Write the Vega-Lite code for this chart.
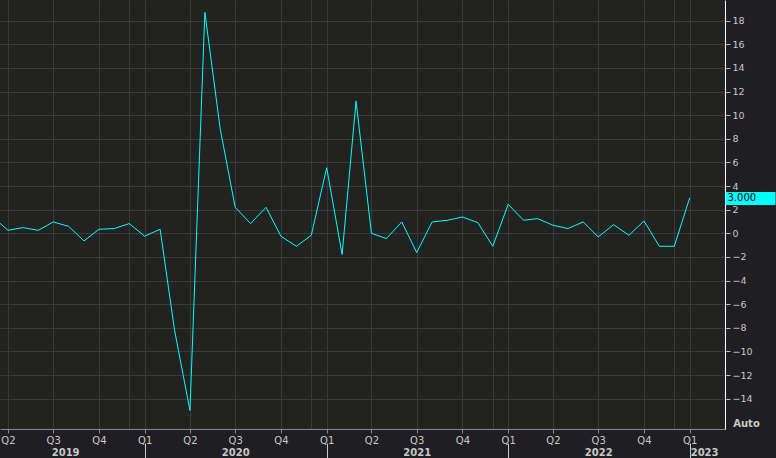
{
  "$schema": "https://vega.github.io/schema/vega-lite/v6.json",
  "autosize": {"type": "none"},
  "width": 725,
  "height": 429,
  "padding": {"left": 0, "top": 0, "right": 51, "bottom": 29},
  "background": "#1f1e22",
  "data": {
    "values": [
      {"date": "2019-03-01", "value": 1.4},
      {"date": "2019-04-01", "value": 0.25},
      {"date": "2019-05-01", "value": 0.48},
      {"date": "2019-06-01", "value": 0.25},
      {"date": "2019-07-01", "value": 0.96},
      {"date": "2019-08-01", "value": 0.59},
      {"date": "2019-09-01", "value": -0.65},
      {"date": "2019-10-01", "value": 0.34},
      {"date": "2019-11-01", "value": 0.4},
      {"date": "2019-12-01", "value": 0.82},
      {"date": "2020-01-01", "value": -0.25},
      {"date": "2020-02-01", "value": 0.34},
      {"date": "2020-03-01", "value": -8.2},
      {"date": "2020-04-01", "value": -15.0},
      {"date": "2020-05-01", "value": 18.7},
      {"date": "2020-06-01", "value": 8.8},
      {"date": "2020-07-01", "value": 2.2},
      {"date": "2020-08-01", "value": 0.82},
      {"date": "2020-09-01", "value": 2.2},
      {"date": "2020-10-01", "value": -0.25},
      {"date": "2020-11-01", "value": -1.1},
      {"date": "2020-12-01", "value": -0.17},
      {"date": "2021-01-01", "value": 5.55},
      {"date": "2021-02-01", "value": -1.8},
      {"date": "2021-03-01", "value": 11.2},
      {"date": "2021-04-01", "value": 0.0},
      {"date": "2021-05-01", "value": -0.45},
      {"date": "2021-06-01", "value": 0.96},
      {"date": "2021-07-01", "value": -1.63},
      {"date": "2021-08-01", "value": 0.96},
      {"date": "2021-09-01", "value": 1.1},
      {"date": "2021-10-01", "value": 1.38},
      {"date": "2021-11-01", "value": 0.9},
      {"date": "2021-12-01", "value": -1.1},
      {"date": "2022-01-01", "value": 2.45},
      {"date": "2022-02-01", "value": 1.1},
      {"date": "2022-03-01", "value": 1.24},
      {"date": "2022-04-01", "value": 0.68},
      {"date": "2022-05-01", "value": 0.4},
      {"date": "2022-06-01", "value": 0.96},
      {"date": "2022-07-01", "value": -0.31},
      {"date": "2022-08-01", "value": 0.73},
      {"date": "2022-09-01", "value": -0.17},
      {"date": "2022-10-01", "value": 1.04},
      {"date": "2022-11-01", "value": -1.1},
      {"date": "2022-12-01", "value": -1.1},
      {"date": "2023-01-01", "value": 3.0}
    ]
  },
  "layer": [
    {
      "mark": {"type": "point", "opacity": 0},
      "encoding": {
        "x": {
          "field": "date", "type": "temporal",
          "axis": {
            "orient": "bottom",
            "values": [
              {"year": 2019, "month": 4, "date": 1, "utc": true},
              {"year": 2019, "month": 7, "date": 1, "utc": true},
              {"year": 2019, "month": 10, "date": 1, "utc": true},
              {"year": 2019, "month": 12, "date": 1, "utc": true},
              {"year": 2020, "month": 1, "date": 1, "utc": true},
              {"year": 2020, "month": 4, "date": 1, "utc": true},
              {"year": 2020, "month": 7, "date": 1, "utc": true},
              {"year": 2020, "month": 10, "date": 1, "utc": true},
              {"year": 2020, "month": 12, "date": 1, "utc": true},
              {"year": 2021, "month": 1, "date": 1, "utc": true},
              {"year": 2021, "month": 4, "date": 1, "utc": true},
              {"year": 2021, "month": 7, "date": 1, "utc": true},
              {"year": 2021, "month": 10, "date": 1, "utc": true},
              {"year": 2021, "month": 12, "date": 1, "utc": true},
              {"year": 2022, "month": 1, "date": 1, "utc": true},
              {"year": 2022, "month": 4, "date": 1, "utc": true},
              {"year": 2022, "month": 7, "date": 1, "utc": true},
              {"year": 2022, "month": 10, "date": 1, "utc": true},
              {"year": 2022, "month": 12, "date": 1, "utc": true},
              {"year": 2023, "month": 1, "date": 1, "utc": true}
            ],
            "grid": true, "gridColor": "#3a3a3a", "gridWidth": 1,
            "labels": false, "ticks": false, "domain": false, "title": null
          }
        }
      }
    },
    {
      "mark": {"type": "line", "color": "#00ffff", "strokeWidth": 1, "clip": true},
      "encoding": {
        "x": {
          "field": "date", "type": "temporal",
          "scale": {
            "type": "utc",
            "domain": [
              {"year": 2019, "month": 3, "date": 16, "utc": true},
              {"year": 2023, "month": 3, "date": 13, "utc": true}
            ]
          },
          "axis": {
            "orient": "bottom",
            "values": [
              {"year": 2019, "month": 4, "date": 1, "utc": true},
              {"year": 2019, "month": 7, "date": 1, "utc": true},
              {"year": 2019, "month": 10, "date": 1, "utc": true},
              {"year": 2020, "month": 1, "date": 1, "utc": true},
              {"year": 2020, "month": 4, "date": 1, "utc": true},
              {"year": 2020, "month": 7, "date": 1, "utc": true},
              {"year": 2020, "month": 10, "date": 1, "utc": true},
              {"year": 2021, "month": 1, "date": 1, "utc": true},
              {"year": 2021, "month": 4, "date": 1, "utc": true},
              {"year": 2021, "month": 7, "date": 1, "utc": true},
              {"year": 2021, "month": 10, "date": 1, "utc": true},
              {"year": 2022, "month": 1, "date": 1, "utc": true},
              {"year": 2022, "month": 4, "date": 1, "utc": true},
              {"year": 2022, "month": 7, "date": 1, "utc": true},
              {"year": 2022, "month": 10, "date": 1, "utc": true},
              {"year": 2023, "month": 1, "date": 1, "utc": true}
            ],
            "format": "Q%q",
            "grid": false,
            "domainColor": "#8a8a8a",
            "tickColor": "#8a8a8a", "tickSize": 4,
            "labelPadding": 2,
            "title": null
          }
        },
        "y": {
          "field": "value", "type": "quantitative",
          "scale": {"domain": [-16.57, 19.75], "nice": false, "zero": false},
          "axis": {
            "orient": "right",
            "values": [-14, -12, -10, -8, -6, -4, -2, 0, 2, 4, 6, 8, 10, 12, 14, 16, 18],
            "grid": true, "gridColor": "#3a3a3a",
            "domainColor": "#ffffff",
            "tickColor": "#bbbbbb", "tickSize": 5,
            "labelPadding": 2, "labelFontSize": 9.5,
            "title": "Auto",
            "titleAngle": 0, "titleX": 21, "titleY": 423,
            "titleAlign": "center", "titleBaseline": "middle",
            "titleFontSize": 10, "titleFontWeight": "bold", "titleColor": "#c8c8c8"
          }
        }
      }
    },
    {
      "mark": {"type": "point", "opacity": 0},
      "encoding": {
        "x": {
          "field": "date", "type": "temporal",
          "axis": {
            "orient": "bottom",
            "values": [
              {"year": 2019, "month": 7, "date": 25, "utc": true},
              {"year": 2020, "month": 7, "date": 1, "utc": true},
              {"year": 2021, "month": 7, "date": 1, "utc": true},
              {"year": 2022, "month": 7, "date": 1, "utc": true},
              {"year": 2023, "month": 1, "date": 30, "utc": true}
            ],
            "format": "%Y",
            "grid": false, "ticks": false, "tickSize": 0, "domain": false,
            "labelPadding": 18, "labelFontWeight": "bold", "labelFontSize": 10,
            "title": null
          }
        }
      }
    },
    {
      "mark": {"type": "point", "opacity": 0},
      "encoding": {
        "x": {
          "field": "date", "type": "temporal",
          "axis": {
            "orient": "bottom",
            "values": [
              {"year": 2020, "month": 1, "date": 1, "utc": true},
              {"year": 2021, "month": 1, "date": 1, "utc": true},
              {"year": 2022, "month": 1, "date": 1, "utc": true},
              {"year": 2023, "month": 1, "date": 1, "utc": true}
            ],
            "offset": 14, "tickSize": 16, "tickColor": "#c8c8c8",
            "grid": false, "labels": false, "domain": false,
            "title": null
          }
        }
      }
    },
    {
      "mark": {"type": "point", "opacity": 0},
      "encoding": {
        "y": {
          "field": "value", "type": "quantitative",
          "axis": {
            "orient": "right",
            "values": [3],
            "format": ".3f",
            "grid": false, "domain": false,
            "tickColor": "#00ffff", "tickSize": 50, "tickWidth": 13,
            "labelColor": "#000000", "labelPadding": -48, "labelFontSize": 10,
            "title": null
          }
        }
      }
    }
  ],
  "resolve": {"axis": {"x": "independent", "y": "independent"}},
  "config": {
    "view": {"fill": "#222320", "stroke": null},
    "axis": {
      "labelFont": "DejaVu Sans",
      "titleFont": "DejaVu Sans",
      "labelColor": "#c8c8c8",
      "labelFontSize": 10,
      "labelFlush": false,
      "labelOverlap": false
    }
  }
}
